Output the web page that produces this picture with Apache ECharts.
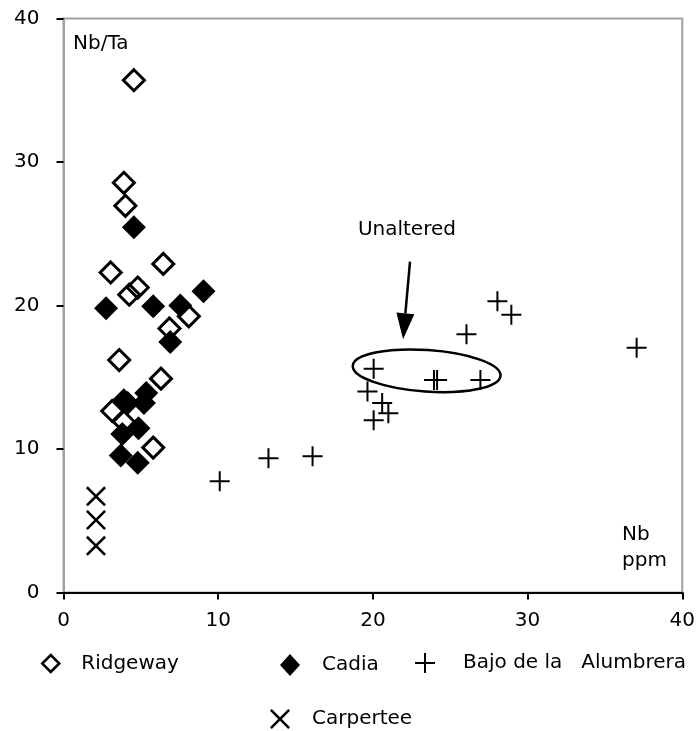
<!DOCTYPE html>
<html>
<head>
<meta charset="utf-8">
<script src="https://cdn.jsdelivr.net/npm/echarts@6/dist/echarts.min.js"></script>
<style>
  html, body { margin: 0; padding: 0; background: #fff; }
  #chart { width: 698px; height: 731px; }
</style>
</head>
<body>
<div id="chart"></div>
<script>
  // Nb (ppm) vs Nb/Ta
  const ridgeway = [
    [4.55, 35.7], [3.9, 28.55], [4.0, 26.95], [6.45, 22.9], [3.05, 22.3],
    [4.8, 21.25], [4.25, 20.75], [8.1, 19.25], [6.85, 18.4], [3.6, 16.2],
    [6.3, 14.9], [3.15, 12.65], [3.9, 11.9], [5.8, 10.1]
  ];
  const cadia = [
    [4.55, 25.45], [2.75, 19.8], [5.8, 19.95], [7.55, 20.0], [9.05, 21.0],
    [6.9, 17.45], [3.9, 13.4], [4.15, 13.2], [5.35, 13.9], [5.2, 13.2],
    [3.8, 11.05], [4.85, 11.45], [3.7, 9.55], [4.8, 9.05]
  ];
  const bajo = [
    [10.1, 7.75], [13.25, 9.35], [16.1, 9.5], [20.05, 15.6], [19.65, 14.0],
    [20.6, 13.2], [21.0, 12.5], [20.05, 12.0], [23.95, 14.8], [24.15, 14.8],
    [26.95, 14.8], [26.05, 18.0], [28.05, 20.3], [28.95, 19.35], [37.05, 17.05]
  ];
  const carpertee = [[2.1, 6.7], [2.1, 5.05], [2.1, 3.25]];

  const axisTicks = [0, 10, 20, 30, 40];

  // "Unaltered" annotation, in data units
  const ellipseEnds = [[18.7, 15.8], [28.25, 15.1]];
  const ellipseHalfHeight = 1.45;
  const arrowFrom = [22.4, 23.05];
  const arrowTo = [21.95, 17.65];
  const noteAt = [22.2, 25.3];

  const FONT = 'DejaVu Sans';
  const PLUS = 'path://M9,0H11V20H9Z M0,9H20V11H0Z';
  const CROSS = 'path://M0,1.8L1.8,0L10,8.2L18.2,0L20,1.8L11.8,10L20,18.2L18.2,20L10,11.8L1.8,20L0,18.2L8.2,10Z';

  const chart = echarts.init(document.getElementById('chart'));

  function legendAt(name, icon, left, top, w, h, padLeft, itemStyle) {
    return {
      data: [name], icon: icon, left: left, top: top,
      itemWidth: w, itemHeight: h, padding: 0, selectedMode: false,
      itemStyle: itemStyle,
      textStyle: { fontFamily: FONT, fontSize: 20, color: '#000', padding: [0, 0, 0, padLeft] }
    };
  }

  const option = {
    backgroundColor: '#fff',
    animation: false,
    grid: {
      left: 63.5, top: 18.5, width: 628, height: 574,
      show: true, borderColor: '#a0a0a0', borderWidth: 2
    },
    xAxis: {
      type: 'value', min: axisTicks[0], max: axisTicks[axisTicks.length - 1], interval: 10,
      axisLine: { onZero: false, lineStyle: { color: '#000', width: 2 } },
      axisTick: { show: true, length: 7, lineStyle: { color: '#000', width: 2 } },
      axisLabel: { fontFamily: FONT, fontSize: 20, color: '#000', margin: 18 },
      splitLine: { show: false }
    },
    yAxis: {
      type: 'value', min: axisTicks[0], max: axisTicks[axisTicks.length - 1], interval: 10,
      axisLine: { show: true, onZero: false, lineStyle: { color: '#a0a0a0', width: 2 } },
      axisTick: { show: true, length: 7, lineStyle: { color: '#000', width: 2 } },
      axisLabel: { fontFamily: FONT, fontSize: 20, color: '#000', margin: 24 },
      splitLine: { show: false }
    },
    legend: [
      legendAt('Ridgeway', 'diamond', 41, 653.5, 17, 17, 17,
        { color: 'transparent', borderColor: '#000', borderWidth: 2.5, opacity: 1 }),
      legendAt('Cadia', 'diamond', 280, 654, 20, 22, 17,
        { color: '#000', borderWidth: 0, opacity: 1 }),
      legendAt('Bajo de la   Alumbrera', PLUS, 415, 653, 20, 20, 23,
        { color: '#000', borderWidth: 0, opacity: 1 }),
      legendAt('Carpertee', CROSS, 270, 709, 20, 20, 17,
        { color: '#000', borderWidth: 0, opacity: 1 })
    ],
    series: [
      {
        name: 'Ridgeway', type: 'scatter', data: ridgeway,
        symbol: 'diamond', symbolSize: 21,
        itemStyle: { color: 'transparent', borderColor: '#000', borderWidth: 3, opacity: 1 },
        emphasis: { disabled: true }, z: 2
      },
      {
        name: 'Cadia', type: 'scatter', data: cadia,
        symbol: 'diamond', symbolSize: 24,
        itemStyle: { color: '#000', opacity: 1 },
        emphasis: { disabled: true }, z: 3
      },
      {
        name: 'Bajo de la   Alumbrera', type: 'scatter', data: bajo,
        symbol: PLUS, symbolSize: 20,
        itemStyle: { color: '#000', opacity: 1 },
        emphasis: { disabled: true }, z: 4
      },
      {
        name: 'Carpertee', type: 'scatter', data: carpertee,
        symbol: CROSS, symbolSize: 20,
        itemStyle: { color: '#000', opacity: 1 },
        emphasis: { disabled: true }, z: 4
      }
    ]
  };

  chart.setOption(option);

  // annotation drawn after layout so it follows the axes
  function px(p) { return chart.convertToPixel({ gridIndex: 0 }, p); }

  const e0 = px(ellipseEnds[0]), e1 = px(ellipseEnds[1]);
  const ecx = (e0[0] + e1[0]) / 2, ecy = (e0[1] + e1[1]) / 2;
  const erx = Math.hypot(e1[0] - e0[0], e1[1] - e0[1]) / 2;
  const ery = Math.abs(px([0, 0])[1] - px([0, ellipseHalfHeight])[1]);
  const erot = -Math.atan2(e1[1] - e0[1], e1[0] - e0[0]);

  const a0 = px(arrowFrom), a1 = px(arrowTo);
  const len = Math.hypot(a1[0] - a0[0], a1[1] - a0[1]);
  const dx = (a1[0] - a0[0]) / len, dy = (a1[1] - a0[1]) / len;
  const headLen = 26, headHalf = 9;
  const base = [a1[0] - dx * headLen, a1[1] - dy * headLen];
  const note = px(noteAt);

  chart.setOption({
    graphic: [
      {
        type: 'ellipse', x: ecx, y: ecy, rotation: erot, z: 10,
        shape: { cx: 0, cy: 0, rx: erx, ry: ery },
        style: { fill: 'none', stroke: '#000', lineWidth: 2.5 }
      },
      {
        type: 'line', z: 10,
        shape: { x1: a0[0], y1: a0[1], x2: base[0], y2: base[1] },
        style: { stroke: '#000', lineWidth: 2.5 }
      },
      {
        type: 'polygon', z: 10,
        shape: { points: [a1, [base[0] - dy * headHalf, base[1] + dx * headHalf], [base[0] + dy * headHalf, base[1] - dx * headHalf]] },
        style: { fill: '#000' }
      },
      {
        type: 'text', x: note[0], y: note[1], z: 10,
        style: { text: 'Unaltered', font: '20px "DejaVu Sans"', fill: '#000', align: 'center', verticalAlign: 'middle' }
      },
      {
        type: 'text', x: 73, y: 44, z: 10,
        style: { text: 'Nb/Ta', font: '20px "DejaVu Sans"', fill: '#000', align: 'left', verticalAlign: 'middle' }
      },
      {
        type: 'text', x: 622, y: 535, z: 10,
        style: { text: 'Nb', font: '20px "DejaVu Sans"', fill: '#000', align: 'left', verticalAlign: 'middle' }
      },
      {
        type: 'text', x: 622, y: 561, z: 10,
        style: { text: 'ppm', font: '20px "DejaVu Sans"', fill: '#000', align: 'left', verticalAlign: 'middle' }
      }
    ]
  });
</script>
</body>
</html>
